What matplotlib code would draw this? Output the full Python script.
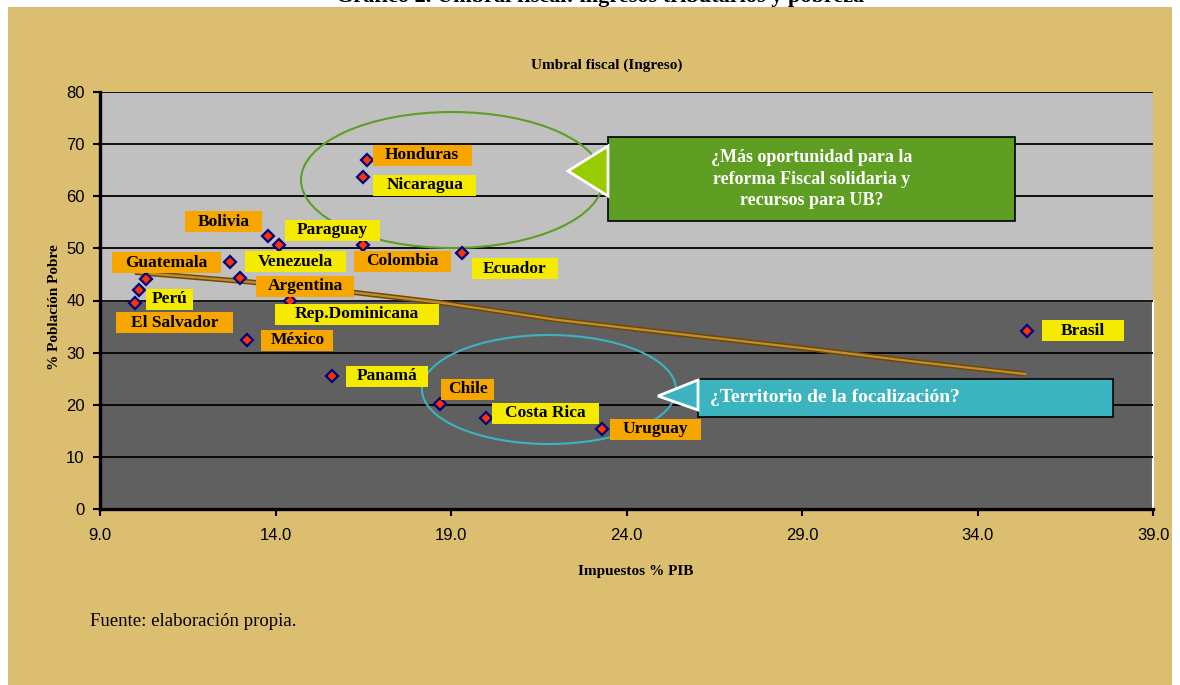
import matplotlib
matplotlib.use('Agg')
import matplotlib.pyplot as plt
from matplotlib.patches import Rectangle, Ellipse, Polygon

# data
paises = ['Honduras', 'Nicaragua', 'Bolivia', 'Paraguay', 'Colombia', 'Ecuador',
          'Venezuela', 'Guatemala', 'Argentina', 'Perú', 'El Salvador',
          'Rep.Dominicana', 'México', 'Panamá', 'Chile', 'Costa Rica',
          'Uruguay', 'Brasil']
impuestos = [16.6, 16.5, 13.8, 14.1, 16.5, 19.3, 12.7, 10.3, 13.0, 10.1, 10.0,
             14.4, 13.2, 15.6, 18.7, 20.0, 23.3, 35.4]
pobreza = [67.0, 63.7, 52.4, 50.6, 50.7, 49.1, 47.4, 44.1, 44.3, 42.0, 39.5,
           39.9, 32.4, 25.5, 20.2, 17.5, 15.3, 34.2]

# trend line
tend_x = [10.0, 13.2, 16.3, 18.8, 22.0, 25.2, 29.5, 32.3, 35.35]
tend_y = [45.4, 43.6, 41.5, 39.5, 36.3, 33.8, 30.5, 28.2, 25.9]

x_ticks = [9.0, 14.0, 19.0, 24.0, 29.0, 34.0, 39.0]
y_ticks = [0, 10, 20, 30, 40, 50, 60, 70, 80]

NARANJA = '#F7A600'
AMARILLO = '#F5EB00'

# label boxes: offset of box left / centre from marker (px, y down), width px, colour
etiquetas = {
    'Honduras': (6, -4.5, 99, NARANJA), 'Nicaragua': (10, 8.5, 103, AMARILLO),
    'Bolivia': (-83, -14, 77, NARANJA), 'Paraguay': (6, -15, 95, AMARILLO),
    'Colombia': (-9, 16.5, 97, NARANJA), 'Ecuador': (10, 15.5, 86, AMARILLO),
    'Venezuela': (15, 0, 101, AMARILLO), 'Guatemala': (-34, -16.5, 109, NARANJA),
    'Argentina': (16, 8, 98, NARANJA), 'Perú': (7, 9, 47, AMARILLO),
    'El Salvador': (-19, 19.5, 117, NARANJA), 'Rep.Dominicana': (-15, 13, 164, AMARILLO),
    'México': (14, 0, 72, NARANJA), 'Panamá': (14, 0, 82, AMARILLO),
    'Chile': (1, -14.5, 53, NARANJA), 'Costa Rica': (6, -4.5, 107, AMARILLO),
    'Uruguay': (8, 0, 91, NARANJA), 'Brasil': (15, 0, 82, AMARILLO),
}

W, H = 1180, 685
TAN = '#DBBE70'
serif = 'Liberation Serif'
sans = 'Liberation Sans'

fig = plt.figure(figsize=(W / 100, H / 100), dpi=100)
fig.patch.set_facecolor('white')
fig.patches.append(Rectangle((8 / W, 0), 1164 / W, (H - 7) / H,
                             transform=fig.transFigure, facecolor=TAN,
                             edgecolor='none', zorder=-1))

ax = fig.add_axes([100 / W, (H - 509) / H, 1053 / W, 417 / H])
ax.set_zorder(1)
ax.set_xlim(9, 39)
ax.set_ylim(0, 80)
ax.set_facecolor('none')


def px(xp, yp):
    # picture pixel -> data coordinates for annotations
    return 9 + (xp - 100) / 35.1, (509 - yp) / 5.2125


# background zones
ax.add_patch(Rectangle((9, 40), 30, 40, facecolor='#C0C0C0', edgecolor='none', zorder=0))
ax.add_patch(Rectangle((9, 0), 30, 40, facecolor='#606060', edgecolor='white',
                       lw=1.5, zorder=0.5, clip_on=False))

for v in y_ticks[1:]:
    ax.axhline(v, color='black', lw=1.3, zorder=1)

for s in ['top', 'right']:
    ax.spines[s].set_visible(False)
for s in ['left', 'bottom']:
    ax.spines[s].set_linewidth(2.4)
    ax.spines[s].set_zorder(3)

ax.set_xticks(x_ticks)
ax.set_xticklabels([f'{v:.1f}' for v in x_ticks])
ax.set_yticks(y_ticks)
ax.tick_params(direction='out', length=5, width=1.5, labelsize=12, pad=6)
for lab in ax.get_xticklabels() + ax.get_yticklabels():
    lab.set_fontfamily(sans)
ax.tick_params(axis='x', pad=9)

# trend line
ax.plot(tend_x, tend_y, color='#6E4A08', lw=3.8, zorder=2, solid_capstyle='butt')
ax.plot(tend_x, tend_y, color='#C08E30', lw=1.6, zorder=2.1)

# points
ax.plot(impuestos, pobreza, linestyle='none', marker='D', ms=6.5,
        markerfacecolor='#FF3300', markeredgecolor='#000080', mew=1.6, zorder=5)

# labels
fig.canvas.draw()
for i, nombre in enumerate(paises):
    dx, dy, w, color = etiquetas[nombre]
    mx, my = ax.transData.transform((impuestos[i], pobreza[i]))
    x0 = mx + dx
    yc = my - dy
    fig.patches.append(Rectangle((x0 / W, (yc - 10.5) / H), w / W, 21 / H,
                                 transform=fig.transFigure, facecolor=color,
                                 edgecolor='none', zorder=4))
    fig.text((x0 + w / 2) / W, yc / H, nombre, ha='center', va='center',
             fontsize=12.5, fontweight='bold', family=serif, color='black', zorder=6)

# ellipses
cx, cy = px(452, 180)
ax.add_patch(Ellipse((cx, cy), 302 / 35.1, 136 / 5.2125, facecolor='none',
                     edgecolor='#5E9E22', lw=1.5, zorder=3))
cx, cy = px(549, 389.5)
ax.add_patch(Ellipse((cx, cy), 254 / 35.1, 109 / 5.2125, facecolor='none',
                     edgecolor='#3BB4BF', lw=1.5, zorder=3))

# green callout
x0, y1 = px(608, 137)
x1, y0 = px(1015, 221)
ax.add_patch(Rectangle((x0, y0), x1 - x0, y1 - y0, facecolor='#5E9E22',
                       edgecolor='black', lw=1.2, zorder=7))
ax.add_patch(Polygon([px(568, 171), px(608, 146), px(608, 196)], closed=True,
                     facecolor='#99CC00', edgecolor='white', lw=2, zorder=7.5))
tx, ty = px(812, 179)
ax.text(tx, ty, '¿Más oportunidad para la\nreforma Fiscal solidaria y\nrecursos para UB?',
        ha='center', va='center', color='white', fontsize=13, fontweight='bold',
        family=serif, linespacing=1.35, zorder=8)

# cyan callout
x0, y1 = px(698, 379)
x1, y0 = px(1113, 417)
ax.add_patch(Rectangle((x0, y0), x1 - x0, y1 - y0, facecolor='#3BB4BF',
                       edgecolor='black', lw=1.2, zorder=7))
ax.add_patch(Polygon([px(658, 396), px(698, 380), px(698, 410)], closed=True,
                     facecolor='#3BB4BF', edgecolor='white', lw=2, zorder=7.5))
tx, ty = px(710, 398)
ax.text(tx, ty, '¿Territorio de la focalización?', ha='left', va='center',
        color='white', fontsize=14, fontweight='bold', family=serif, zorder=8)

# titles
fig.text(607 / W, 1 - 65 / H, 'Umbral fiscal (Ingreso)', ha='center', va='center',
         fontsize=11, fontweight='bold', family=serif)
fig.text(55 / W, 1 - 307 / H, '% Población Pobre', ha='center', va='center',
         rotation=90, fontsize=11, fontweight='bold', family=serif)
fig.text(636 / W, 1 - 571 / H, 'Impuestos % PIB', ha='center', va='center',
         fontsize=11, fontweight='bold', family=serif)
fig.text(90 / W, 1 - 622 / H, 'Fuente: elaboración propia.', ha='left', va='center',
         fontsize=13.5, family=serif)
fig.text(600 / W, 1 - 2 / H, 'Gráfico 2. Umbral fiscal: ingresos tributarios y pobreza',
         ha='center', va='baseline', fontsize=16, fontweight='bold', family=serif)

fig.savefig('out.png', dpi=100, facecolor=fig.get_facecolor())
